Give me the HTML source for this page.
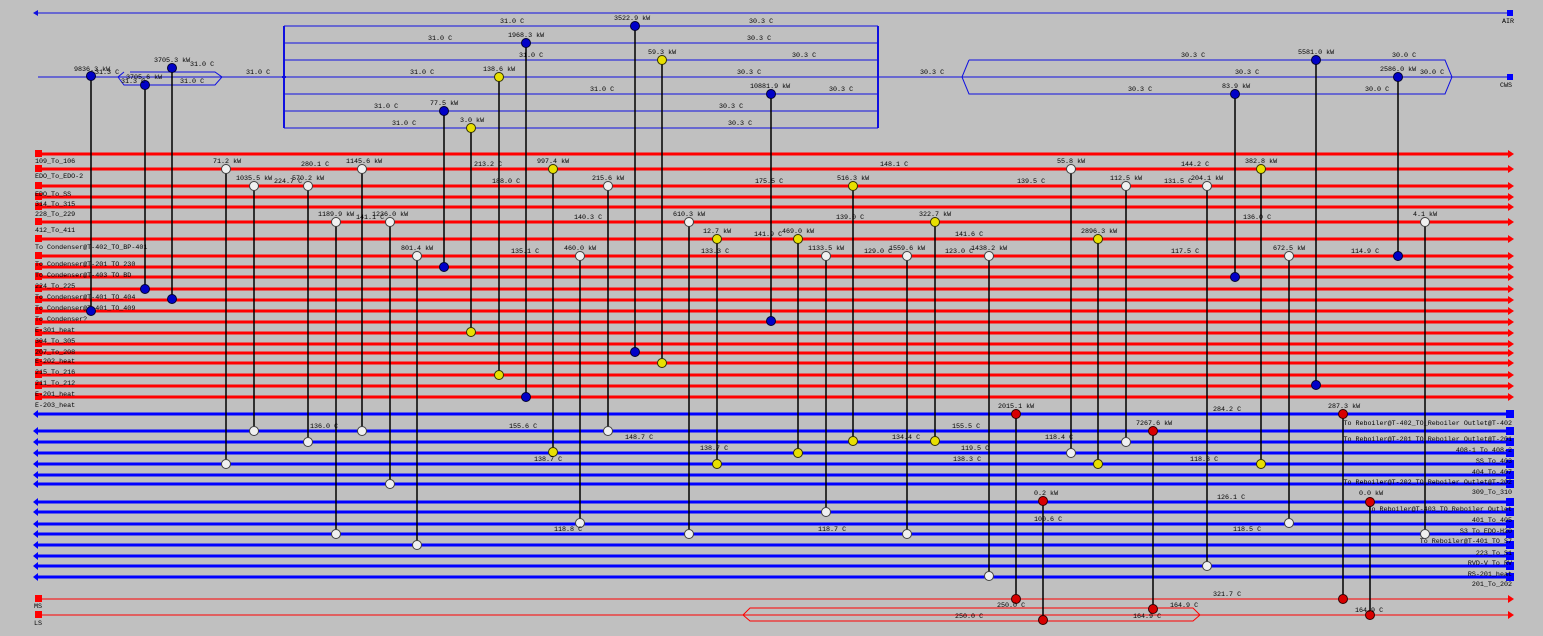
<!DOCTYPE html>
<html><head><meta charset="utf-8"><style>
html,body{margin:0;padding:0;background:#c0c0c0;}
svg{display:block;}
text{font-family:"Liberation Mono",monospace;font-size:6.7px;fill:#000;}
</style></head><body>
<svg width="1543" height="636" viewBox="0 0 1543 636" xmlns="http://www.w3.org/2000/svg">
<rect width="1543" height="636" fill="#c0c0c0"/>
<line x1="38" y1="13" x2="1510" y2="13" stroke="#1010e0" stroke-width="1"/>
<polygon points="38,10 33,13 38,16" fill="#1010e0"/>
<rect x="1507" y="10" width="6" height="6" fill="#0000ff"/>
<text x="1502" y="23">AIR</text>
<line x1="38" y1="77" x2="1510" y2="77" stroke="#1010e0" stroke-width="1"/>
<rect x="1507" y="74" width="6" height="6" fill="#0000ff"/>
<text x="1500" y="87">CWS</text>
<g stroke="#1010e0" stroke-width="1" fill="none">
<line x1="284" y1="26" x2="878" y2="26"/><line x1="284" y1="43" x2="878" y2="43"/>
<line x1="284" y1="60" x2="878" y2="60"/><line x1="284" y1="94" x2="878" y2="94"/>
<line x1="284" y1="111" x2="878" y2="111"/><line x1="284" y1="128" x2="878" y2="128"/>
<path d="M284,26 L284,128 M282,77 L286,77" stroke-width="2"/>
<path d="M878,26 L878,128" stroke-width="2"/>
<path d="M130,72 L215,72 L222,77 L215,85 L124,85 L118,77 L124,72" />
<path d="M969,60 L1445,60 L1452,77 L1445,94 L969,94 L962,77 L969,60"/>
</g>
<g stroke="#ff0000" stroke-width="3">
<line x1="38" y1="154" x2="1508" y2="154"/><line x1="38" y1="169" x2="1508" y2="169"/>
<line x1="38" y1="186" x2="1508" y2="186"/><line x1="38" y1="197" x2="1508" y2="197"/>
<line x1="38" y1="207" x2="1508" y2="207"/><line x1="38" y1="222" x2="1508" y2="222"/>
<line x1="38" y1="239" x2="1508" y2="239"/><line x1="38" y1="256" x2="1508" y2="256"/>
<line x1="38" y1="267" x2="1508" y2="267"/><line x1="38" y1="277" x2="1508" y2="277"/>
<line x1="38" y1="289" x2="1508" y2="289"/><line x1="38" y1="300" x2="1508" y2="300"/>
<line x1="38" y1="311" x2="1508" y2="311"/><line x1="38" y1="322" x2="1508" y2="322"/>
<line x1="38" y1="333" x2="1508" y2="333"/><line x1="38" y1="344" x2="1508" y2="344"/>
<line x1="38" y1="353" x2="1508" y2="353"/><line x1="38" y1="363" x2="1508" y2="363"/>
<line x1="38" y1="375" x2="1508" y2="375"/><line x1="38" y1="386" x2="1508" y2="386"/>
<line x1="38" y1="397" x2="1508" y2="397"/>
</g>
<g fill="#ff0000">
<rect x="35" y="150" width="7" height="7"/><rect x="35" y="165" width="7" height="7"/><rect x="35" y="182" width="7" height="7"/><rect x="35" y="193" width="7" height="7"/><rect x="35" y="203" width="7" height="7"/><rect x="35" y="218" width="7" height="7"/><rect x="35" y="235" width="7" height="7"/><rect x="35" y="252" width="7" height="7"/><rect x="35" y="263" width="7" height="7"/><rect x="35" y="273" width="7" height="7"/><rect x="35" y="285" width="7" height="7"/><rect x="35" y="296" width="7" height="7"/><rect x="35" y="307" width="7" height="7"/><rect x="35" y="318" width="7" height="7"/><rect x="35" y="329" width="7" height="7"/><rect x="35" y="340" width="7" height="7"/><rect x="35" y="349" width="7" height="7"/><rect x="35" y="359" width="7" height="7"/><rect x="35" y="371" width="7" height="7"/><rect x="35" y="382" width="7" height="7"/><rect x="35" y="393" width="7" height="7"/>
<rect x="35" y="595" width="7" height="7"/><rect x="35" y="611" width="7" height="7"/>
</g>
<g fill="#ff0000">
<polygon points="1508,150 1514,154 1508,158"/><polygon points="1508,165 1514,169 1508,173"/><polygon points="1508,182 1514,186 1508,190"/><polygon points="1508,193 1514,197 1508,201"/><polygon points="1508,203 1514,207 1508,211"/><polygon points="1508,218 1514,222 1508,226"/><polygon points="1508,235 1514,239 1508,243"/><polygon points="1508,252 1514,256 1508,260"/><polygon points="1508,263 1514,267 1508,271"/><polygon points="1508,273 1514,277 1508,281"/><polygon points="1508,285 1514,289 1508,293"/><polygon points="1508,296 1514,300 1508,304"/><polygon points="1508,307 1514,311 1508,315"/><polygon points="1508,318 1514,322 1508,326"/><polygon points="1508,329 1514,333 1508,337"/><polygon points="1508,340 1514,344 1508,348"/><polygon points="1508,349 1514,353 1508,357"/><polygon points="1508,359 1514,363 1508,367"/><polygon points="1508,371 1514,375 1508,379"/><polygon points="1508,382 1514,386 1508,390"/><polygon points="1508,393 1514,397 1508,401"/>
<polygon points="1508,595 1514,599 1508,603"/><polygon points="1508,611 1514,615 1508,619"/>
</g>
<g stroke="#ff0000" stroke-width="1" fill="none">
<line x1="38" y1="599" x2="1510" y2="599"/>
<line x1="38" y1="615" x2="1510" y2="615"/>
<path d="M750,608 L1193,608 L1200,615 L1193,621 L750,621 L743,615 Z"/>
</g>
<text x="34" y="608">MS</text><text x="34" y="625">LS</text>
<g>
<text x="35" y="163">109_To_106</text><text x="35" y="178">EDO_To_EDO-2</text><text x="35" y="196">EDO_To_SS</text><text x="35" y="206">314_To_315</text><text x="35" y="216">228_To_229</text><text x="35" y="232">412_To_411</text><text x="35" y="249">To Condenser@T-402_TO_BP-401</text><text x="35" y="266">To Condenser@T-201 TO 230</text><text x="35" y="277">To Condenser@T-403 TO BD</text><text x="35" y="288">224_To_225</text><text x="35" y="299">To Condenser@T-401_TO_404</text><text x="35" y="310">To Condenser@T-401_TO_409</text><text x="35" y="321">To Condenser?</text><text x="35" y="332">E-301_heat</text><text x="35" y="343">304_To_305</text><text x="35" y="354">207_To_208</text><text x="35" y="363">E-202_heat</text><text x="35" y="374">215_To_216</text><text x="35" y="385">211_To_212</text><text x="35" y="396">E-201_heat</text><text x="35" y="407">E-203_heat</text>
</g>
<g stroke="#0000ff" stroke-width="3">
<line x1="38" y1="414" x2="1510" y2="414"/><line x1="38" y1="431" x2="1510" y2="431"/><line x1="38" y1="442" x2="1510" y2="442"/><line x1="38" y1="453" x2="1510" y2="453"/><line x1="38" y1="464" x2="1510" y2="464"/><line x1="38" y1="475" x2="1510" y2="475"/><line x1="38" y1="484" x2="1510" y2="484"/><line x1="38" y1="502" x2="1510" y2="502"/><line x1="38" y1="512" x2="1510" y2="512"/><line x1="38" y1="524" x2="1510" y2="524"/><line x1="38" y1="534" x2="1510" y2="534"/><line x1="38" y1="545" x2="1510" y2="545"/><line x1="38" y1="556" x2="1510" y2="556"/><line x1="38" y1="566" x2="1510" y2="566"/><line x1="38" y1="577" x2="1510" y2="577"/>
</g>
<g fill="#0000ff">
<rect x="1506" y="410" width="8" height="8"/><rect x="1506" y="427" width="8" height="8"/><rect x="1506" y="438" width="8" height="8"/><rect x="1506" y="449" width="8" height="8"/><rect x="1506" y="460" width="8" height="8"/><rect x="1506" y="471" width="8" height="8"/><rect x="1506" y="480" width="8" height="8"/><rect x="1506" y="498" width="8" height="8"/><rect x="1506" y="508" width="8" height="8"/><rect x="1506" y="520" width="8" height="8"/><rect x="1506" y="530" width="8" height="8"/><rect x="1506" y="541" width="8" height="8"/><rect x="1506" y="552" width="8" height="8"/><rect x="1506" y="562" width="8" height="8"/><rect x="1506" y="573" width="8" height="8"/>
<polygon points="38,410 33,414 38,418"/><polygon points="38,427 33,431 38,435"/><polygon points="38,438 33,442 38,446"/><polygon points="38,449 33,453 38,457"/><polygon points="38,460 33,464 38,468"/><polygon points="38,471 33,475 38,479"/><polygon points="38,480 33,484 38,488"/><polygon points="38,498 33,502 38,506"/><polygon points="38,508 33,512 38,516"/><polygon points="38,520 33,524 38,528"/><polygon points="38,530 33,534 38,538"/><polygon points="38,541 33,545 38,549"/><polygon points="38,552 33,556 38,560"/><polygon points="38,562 33,566 38,570"/><polygon points="38,573 33,577 38,581"/>
</g>
<g text-anchor="end">
<text x="1512" y="425">To Reboiler@T-402_TO_Reboiler Outlet@T-402</text><text x="1512" y="441">To Reboiler@T-201 TO Reboiler Outlet@T-201</text><text x="1512" y="452">408-1 To 408-2</text><text x="1512" y="463">SS_To_403</text><text x="1512" y="474">404_To_407</text><text x="1512" y="484">To Reboiler@T-202_TO_Reboiler Outlet@T-202</text><text x="1512" y="494">309_To_310</text><text x="1512" y="511">To Reboiler@T-403_TO_Reboiler Outlet</text><text x="1512" y="522">401_To_405</text><text x="1512" y="533">S3 To EDO-H20</text><text x="1512" y="543">To Reboiler@T-401_TO_S7</text><text x="1512" y="555">223_To_S1</text><text x="1512" y="565">RVD-V To RV</text><text x="1512" y="576">RS-201_heat</text><text x="1512" y="586">201_To_202</text>
</g>
<g stroke="#000" stroke-width="1.5">
<line x1="91" y1="76" x2="91" y2="311"/><line x1="145" y1="85" x2="145" y2="289"/><line x1="172" y1="68" x2="172" y2="299"/><line x1="444" y1="111" x2="444" y2="267"/><line x1="526" y1="43" x2="526" y2="397"/><line x1="635" y1="26" x2="635" y2="352"/><line x1="771" y1="94" x2="771" y2="321"/><line x1="1235" y1="94" x2="1235" y2="277"/><line x1="1316" y1="60" x2="1316" y2="385"/><line x1="1398" y1="77" x2="1398" y2="256"/>
<line x1="471" y1="128" x2="471" y2="332"/><line x1="499" y1="77" x2="499" y2="375"/><line x1="662" y1="60" x2="662" y2="363"/><line x1="553" y1="169" x2="553" y2="452"/><line x1="717" y1="239" x2="717" y2="464"/><line x1="798" y1="239" x2="798" y2="453"/><line x1="853" y1="186" x2="853" y2="441"/><line x1="935" y1="222" x2="935" y2="441"/><line x1="1098" y1="239" x2="1098" y2="464"/><line x1="1261" y1="169" x2="1261" y2="464"/>
<line x1="226" y1="169" x2="226" y2="464"/><line x1="254" y1="186" x2="254" y2="431"/><line x1="308" y1="186" x2="308" y2="442"/><line x1="336" y1="222" x2="336" y2="534"/><line x1="362" y1="169" x2="362" y2="431"/><line x1="390" y1="222" x2="390" y2="484"/><line x1="417" y1="256" x2="417" y2="545"/><line x1="580" y1="256" x2="580" y2="523"/><line x1="608" y1="186" x2="608" y2="431"/><line x1="689" y1="222" x2="689" y2="534"/><line x1="826" y1="256" x2="826" y2="512"/><line x1="907" y1="256" x2="907" y2="534"/><line x1="989" y1="256" x2="989" y2="576"/><line x1="1071" y1="169" x2="1071" y2="453"/><line x1="1126" y1="186" x2="1126" y2="442"/><line x1="1207" y1="186" x2="1207" y2="566"/><line x1="1289" y1="256" x2="1289" y2="523"/><line x1="1425" y1="222" x2="1425" y2="534"/>
<line x1="1016" y1="414" x2="1016" y2="599"/><line x1="1043" y1="501" x2="1043" y2="620"/><line x1="1153" y1="431" x2="1153" y2="609"/><line x1="1343" y1="414" x2="1343" y2="599"/><line x1="1370" y1="502" x2="1370" y2="615"/>
</g>
<g fill="#0000c8" stroke="#000030" stroke-width="1">
<circle cx="91" cy="76" r="4.5"/><circle cx="91" cy="311" r="4.5"/><circle cx="145" cy="85" r="4.5"/><circle cx="145" cy="289" r="4.5"/><circle cx="172" cy="68" r="4.5"/><circle cx="172" cy="299" r="4.5"/><circle cx="444" cy="111" r="4.5"/><circle cx="444" cy="267" r="4.5"/><circle cx="526" cy="43" r="4.5"/><circle cx="526" cy="397" r="4.5"/><circle cx="635" cy="26" r="4.5"/><circle cx="635" cy="352" r="4.5"/><circle cx="771" cy="94" r="4.5"/><circle cx="771" cy="321" r="4.5"/><circle cx="1235" cy="94" r="4.5"/><circle cx="1235" cy="277" r="4.5"/><circle cx="1316" cy="60" r="4.5"/><circle cx="1316" cy="385" r="4.5"/><circle cx="1398" cy="77" r="4.5"/><circle cx="1398" cy="256" r="4.5"/>
</g>
<g fill="#e8e000" stroke="#303000" stroke-width="1">
<circle cx="471" cy="128" r="4.5"/><circle cx="471" cy="332" r="4.5"/><circle cx="499" cy="77" r="4.5"/><circle cx="499" cy="375" r="4.5"/><circle cx="662" cy="60" r="4.5"/><circle cx="662" cy="363" r="4.5"/><circle cx="553" cy="169" r="4.5"/><circle cx="553" cy="452" r="4.5"/><circle cx="717" cy="239" r="4.5"/><circle cx="717" cy="464" r="4.5"/><circle cx="798" cy="239" r="4.5"/><circle cx="798" cy="453" r="4.5"/><circle cx="853" cy="186" r="4.5"/><circle cx="853" cy="441" r="4.5"/><circle cx="935" cy="222" r="4.5"/><circle cx="935" cy="441" r="4.5"/><circle cx="1098" cy="239" r="4.5"/><circle cx="1098" cy="464" r="4.5"/><circle cx="1261" cy="169" r="4.5"/><circle cx="1261" cy="464" r="4.5"/>
</g>
<g fill="#f0f0f0" stroke="#404040" stroke-width="1">
<circle cx="226" cy="169" r="4.5"/><circle cx="226" cy="464" r="4.5"/><circle cx="254" cy="186" r="4.5"/><circle cx="254" cy="431" r="4.5"/><circle cx="308" cy="186" r="4.5"/><circle cx="308" cy="442" r="4.5"/><circle cx="336" cy="222" r="4.5"/><circle cx="336" cy="534" r="4.5"/><circle cx="362" cy="169" r="4.5"/><circle cx="362" cy="431" r="4.5"/><circle cx="390" cy="222" r="4.5"/><circle cx="390" cy="484" r="4.5"/><circle cx="417" cy="256" r="4.5"/><circle cx="417" cy="545" r="4.5"/><circle cx="580" cy="256" r="4.5"/><circle cx="580" cy="523" r="4.5"/><circle cx="608" cy="186" r="4.5"/><circle cx="608" cy="431" r="4.5"/><circle cx="689" cy="222" r="4.5"/><circle cx="689" cy="534" r="4.5"/><circle cx="826" cy="256" r="4.5"/><circle cx="826" cy="512" r="4.5"/><circle cx="907" cy="256" r="4.5"/><circle cx="907" cy="534" r="4.5"/><circle cx="989" cy="256" r="4.5"/><circle cx="989" cy="576" r="4.5"/><circle cx="1071" cy="169" r="4.5"/><circle cx="1071" cy="453" r="4.5"/><circle cx="1126" cy="186" r="4.5"/><circle cx="1126" cy="442" r="4.5"/><circle cx="1207" cy="186" r="4.5"/><circle cx="1207" cy="566" r="4.5"/><circle cx="1289" cy="256" r="4.5"/><circle cx="1289" cy="523" r="4.5"/><circle cx="1425" cy="222" r="4.5"/><circle cx="1425" cy="534" r="4.5"/>
</g>
<g fill="#d80000" stroke="#300000" stroke-width="1">
<circle cx="1016" cy="414" r="4.5"/><circle cx="1016" cy="599" r="4.5"/><circle cx="1043" cy="501" r="4.5"/><circle cx="1043" cy="620" r="4.5"/><circle cx="1153" cy="431" r="4.5"/><circle cx="1153" cy="609" r="4.5"/><circle cx="1343" cy="414" r="4.5"/><circle cx="1343" cy="599" r="4.5"/><circle cx="1370" cy="502" r="4.5"/><circle cx="1370" cy="615" r="4.5"/>
</g>
<g>
<text x="74" y="71">9836.3 kW</text><text x="126" y="79">3705.6 kW</text><text x="154" y="62">3705.3 kW</text><text x="430" y="105">77.5 kW</text><text x="508" y="37">1968.3 kW</text><text x="614" y="20">3522.9 kW</text><text x="750" y="88">10881.9 kW</text><text x="1222" y="88">83.9 kW</text><text x="1298" y="54">5581.0 kW</text><text x="1380" y="71">2586.0 kW</text>
<text x="460" y="122">3.0 kW</text><text x="483" y="71">138.6 kW</text><text x="648" y="54">59.3 kW</text><text x="537" y="163">997.4 kW</text><text x="703" y="233">12.7 kW</text><text x="782" y="233">469.0 kW</text><text x="837" y="180">516.3 kW</text><text x="919" y="216">322.7 kW</text><text x="1081" y="233">2896.3 kW</text><text x="1245" y="163">382.8 kW</text>
<text x="213" y="163">71.2 kW</text><text x="236" y="180">1035.5 kW</text><text x="292" y="180">570.2 kW</text><text x="318" y="216">1189.9 kW</text><text x="346" y="163">1145.6 kW</text><text x="372" y="216">1236.0 kW</text><text x="401" y="250">801.4 kW</text><text x="564" y="250">460.0 kW</text><text x="592" y="180">215.6 kW</text><text x="673" y="216">610.3 kW</text><text x="808" y="250">1133.5 kW</text><text x="889" y="250">1559.6 kW</text><text x="971" y="250">1438.2 kW</text><text x="1057" y="163">55.8 kW</text><text x="1110" y="180">112.5 kW</text><text x="1191" y="180">204.1 kW</text><text x="1273" y="250">672.5 kW</text><text x="1413" y="216">4.1 kW</text>
<text x="998" y="408">2015.1 kW</text><text x="1034" y="495">0.2 kW</text><text x="1136" y="425">7267.6 kW</text><text x="1328" y="408">287.3 kW</text><text x="1359" y="495">0.0 kW</text>
</g>
<g>
<text x="500" y="23">31.0 C</text><text x="749" y="23">30.3 C</text><text x="428" y="40">31.0 C</text><text x="747" y="40">30.3 C</text><text x="519" y="57">31.0 C</text><text x="792" y="57">30.3 C</text><text x="410" y="74">31.0 C</text><text x="737" y="74">30.3 C</text><text x="590" y="91">31.0 C</text><text x="829" y="91">30.3 C</text><text x="374" y="108">31.0 C</text><text x="719" y="108">30.3 C</text><text x="392" y="125">31.0 C</text><text x="728" y="125">30.3 C</text>
<text x="95" y="74">31.3 C</text><text x="121" y="83">31.3 C</text><text x="190" y="66">31.0 C</text><text x="180" y="83">31.0 C</text><text x="246" y="74">31.0 C</text><text x="920" y="74">30.3 C</text>
<text x="1181" y="57">30.3 C</text><text x="1392" y="57">30.0 C</text><text x="1235" y="74">30.3 C</text><text x="1420" y="74">30.0 C</text><text x="1128" y="91">30.3 C</text><text x="1365" y="91">30.0 C</text>
<text x="880" y="166">148.1 C</text><text x="274" y="183">224.7 C</text><text x="301" y="166">280.1 C</text><text x="474" y="166">213.2 C</text><text x="492" y="183">188.0 C</text><text x="755" y="183">175.5 C</text><text x="1017" y="183">139.5 C</text><text x="1164" y="183">131.5 C</text><text x="1181" y="166">144.2 C</text><text x="356" y="219">141.1 C</text><text x="574" y="219">140.3 C</text><text x="836" y="219">139.0 C</text><text x="1243" y="219">136.0 C</text><text x="754" y="236">141.9 C</text><text x="955" y="236">141.6 C</text><text x="511" y="253">135.1 C</text><text x="701" y="253">133.3 C</text><text x="864" y="253">129.0 C</text><text x="945" y="253">123.0 C</text><text x="1171" y="253">117.5 C</text><text x="1351" y="253">114.9 C</text>
<text x="310" y="428">136.0 C</text><text x="509" y="428">155.6 C</text><text x="952" y="428">155.5 C</text><text x="1213" y="411">284.2 C</text><text x="625" y="439">148.7 C</text><text x="892" y="439">134.4 C</text><text x="1045" y="439">118.4 C</text><text x="700" y="450">138.7 C</text><text x="961" y="450">119.5 C</text><text x="534" y="461">138.7 C</text><text x="953" y="461">138.3 C</text><text x="1190" y="461">118.3 C</text><text x="1217" y="499">126.1 C</text><text x="1034" y="521">100.6 C</text><text x="554" y="531">118.8 C</text><text x="818" y="531">118.7 C</text><text x="1233" y="531">118.5 C</text>
<text x="1213" y="596">321.7 C</text><text x="997" y="607">250.0 C</text><text x="1170" y="607">164.9 C</text><text x="1355" y="612">164.9 C</text><text x="955" y="618">250.0 C</text><text x="1133" y="618">164.9 C</text>
</g>
</svg>
</body></html>
